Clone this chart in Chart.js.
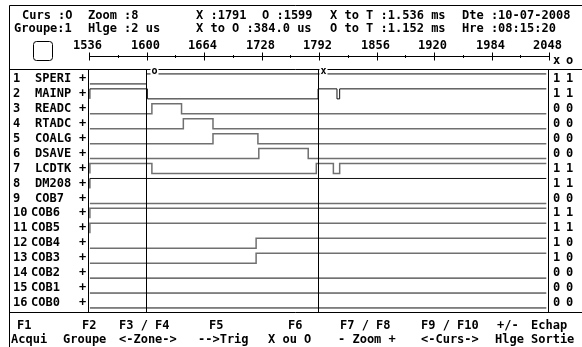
<!DOCTYPE html>
<html><head><meta charset="utf-8">
<script src="https://cdn.jsdelivr.net/npm/chart.js@4.4.0/dist/chart.umd.min.js"></script>
<style>
html,body{margin:0;padding:0;background:#fff;}
#wrap{position:relative;width:582px;height:347px;overflow:hidden;background:#fff;}
canvas{position:absolute;left:0;top:0;}
.t{position:absolute;font:bold 12px 'DejaVu Sans Mono',monospace;line-height:14px;white-space:pre;color:#000;}
</style></head><body>
<div id="wrap">
<canvas id="c" width="582" height="347"></canvas>
<span class="t" style="left:22px;top:8px">Curs :O</span>
<span class="t" style="left:88px;top:8px">Zoom :8</span>
<span class="t" style="left:196px;top:8px">X :1791</span>
<span class="t" style="left:262px;top:8px">O :1599</span>
<span class="t" style="left:330px;top:8px">X to T :1.536 ms</span>
<span class="t" style="left:462px;top:8px">Dte :10-07-2008</span>
<span class="t" style="left:14px;top:21px">Groupe:1</span>
<span class="t" style="left:88px;top:21px">Hlge :2 us</span>
<span class="t" style="left:196px;top:21px">X to O :384.0 us</span>
<span class="t" style="left:330px;top:21px">O to T :1.152 ms</span>
<span class="t" style="left:462px;top:21px">Hre :08:15:20</span>

<span class="t" style="left:17px;top:318px">F1</span>
<span class="t" style="left:82px;top:318px">F2</span>
<span class="t" style="left:119px;top:318px">F3 / F4</span>
<span class="t" style="left:209px;top:318px">F5</span>
<span class="t" style="left:288px;top:318px">F6</span>
<span class="t" style="left:340px;top:318px">F7 / F8</span>
<span class="t" style="left:421px;top:318px">F9 / F10</span>
<span class="t" style="left:497px;top:318px">+/-</span>
<span class="t" style="left:531px;top:318px">Echap</span>
<span class="t" style="left:11px;top:332px">Acqui</span>
<span class="t" style="left:63px;top:332px">Groupe</span>
<span class="t" style="left:119px;top:332px">&lt;-Zone-&gt;</span>
<span class="t" style="left:198px;top:332px">--&gt;Trig</span>
<span class="t" style="left:268px;top:332px">X ou O</span>
<span class="t" style="left:338px;top:332px">- Zoom +</span>
<span class="t" style="left:421px;top:332px">&lt;-Curs-&gt;</span>
<span class="t" style="left:495px;top:332px">Hlge</span>
<span class="t" style="left:531px;top:332px">Sortie</span>
</div>
<script>
// ---- data ----
const tickValues = [1536, 1600, 1664, 1728, 1792, 1856, 1920, 1984, 2048];
const signalNames = ['SPERI','MAINP','READC','RTADC','COALG','DSAVE','LCDTK','DM208',
                     'COB7','COB6','COB5','COB4','COB3','COB2','COB1','COB0'];
const startLevels = [0,1,0,0,0,0,1,1,0,1,1,0,0,0,0,0];
const edgesSPERI = [1600];
const edgesMAINP = [1601, 1791, 1812, 1815];
const edgesREADC = [1606, 1639];
const edgesRTADC = [1641, 1674];
const edgesCOALG = [1674, 1724];
const edgesDSAVE = [1725, 1780];
const edgesLCDTK = [1606, 1789, 1808, 1815];
const edgesDM208 = [];
const edgesCOB7 = [];
const edgesCOB6 = [];
const edgesCOB5 = [];
const edgesCOB4 = [1722];
const edgesCOB3 = [1722];
const edgesCOB2 = [];
const edgesCOB1 = [];
const edgesCOB0 = [];
const valuesAtX = ['1','1','0','0','0','0','1','1','0','1','1','1','1','0','0','0'];
const valuesAtO = ['1','1','0','0','0','0','1','1','0','1','1','0','0','0','0','0'];
const cursorX = 1791;
const cursorO = 1599;
const traceStart = 1537, traceEnd = 2045;

const allEdges = [edgesSPERI, edgesMAINP, edgesREADC, edgesRTADC, edgesCOALG, edgesDSAVE,
  edgesLCDTK, edgesDM208, edgesCOB7, edgesCOB6, edgesCOB5, edgesCOB4, edgesCOB3,
  edgesCOB2, edgesCOB1, edgesCOB0];

// ---- styles ----
const HIGH = 0.67;
const greyRows = [2,3,4,5,6,8,9,10,11,12];
const FONT = "bold 12px 'DejaVu Sans Mono', monospace";

function buildPoints(i) {
  const base = 15 - i;
  let lvl = startLevels[i];
  const pts = [];
  if (lvl === 1) { pts.push({x: traceStart, y: base}); }
  pts.push({x: traceStart, y: base + lvl * HIGH});
  for (const t of allEdges[i]) {
    lvl = 1 - lvl;
    pts.push({x: t, y: base + lvl * HIGH});
  }
  pts.push({x: traceEnd, y: base + lvl * HIGH});
  return pts;
}

const datasets = signalNames.map((n, i) => ({
  label: n,
  data: buildPoints(i),
  stepped: 'before',
  borderColor: greyRows.includes(i) ? '#707070' : '#111',
  borderWidth: greyRows.includes(i) ? 1.5 : 1,
  pointRadius: 0,
  fill: false,
  tension: 0
}));

const H = (v) => Math.round(v) + 0.5;

const scopePlugin = {
  id: 'scope',
  afterDraw(chart) {
    const ctx = chart.ctx;
    const xs = chart.scales.x, ys = chart.scales.y;
    const a = chart.chartArea;
    ctx.save();
    ctx.strokeStyle = '#000';
    ctx.lineWidth = 1;
    const line = (x1, y1, x2, y2) => { ctx.beginPath(); ctx.moveTo(x1, y1); ctx.lineTo(x2, y2); ctx.stroke(); };
    const top = a.top - 0.5, bot = a.bottom - 0.5;
    // frame
    line(9.5, 5.5, 582, 5.5);
    line(9.5, 5.5, 9.5, 347);
    line(9.5, H(top), 582, H(top));
    line(9.5, H(bot), 582, H(bot));
    line(88.5, H(top), 88.5, H(bot));
    line(548.5, H(top), 548.5, H(bot));
    // box
    ctx.beginPath();
    if (ctx.roundRect) ctx.roundRect(33.5, 41.5, 19, 19, 3); else ctx.rect(33.5, 41.5, 19, 19);
    ctx.stroke();
    // ruler
    const ry = 56.5;
    const x0 = xs.getPixelForValue(tickValues[0]), x1 = xs.getPixelForValue(tickValues[tickValues.length - 1]);
    line(Math.round(x0) + 0.5, ry, Math.round(x1) + 0.5, ry);
    ctx.font = FONT;
    ctx.fillStyle = '#000';
    ctx.textAlign = 'center';
    ctx.textBaseline = 'middle';
    for (let k = 0; k < tickValues.length; k++) {
      const px = Math.round(xs.getPixelForValue(tickValues[k])) + 0.5;
      line(px, ry - 4, px, ry + 4);
      ctx.fillText(String(tickValues[k]), px - 2, 46);
      if (k < tickValues.length - 1) {
        const mid = Math.round(xs.getPixelForValue((tickValues[k] + tickValues[k + 1]) / 2)) + 0.5;
        line(mid, ry - 1.5, mid, ry + 1.5);
      }
    }
    // x o header
    ctx.textAlign = 'left';
    ctx.fillText('x', 553, 61);
    ctx.fillText('o', 566, 61);
    // cursors
    const cx = Math.round(xs.getPixelForValue(cursorX)) + 0.5;
    const co = Math.round(xs.getPixelForValue(cursorO)) + 0.5;
    line(cx, H(top), cx, H(bot));
    line(co, H(top), co, H(bot));
    // markers
    const hy = ys.getPixelForValue(15 + HIGH);
    ctx.font = "bold 10px 'DejaVu Sans Mono', monospace";
    ctx.fillStyle = '#fff';
    ctx.fillRect(co + 4, hy - 6, 8, 7);
    ctx.fillRect(cx + 1, hy - 6, 8, 7);
    ctx.fillStyle = '#000';
    ctx.textBaseline = 'alphabetic';
    ctx.fillText('o', co + 5, hy + 0.5);
    ctx.fillText('x', cx + 2, hy + 0.5);
    // row labels and values
    ctx.font = FONT;
    ctx.textBaseline = 'middle';
    for (let i = 0; i < signalNames.length; i++) {
      const ty = ys.getPixelForValue(15 - i) - 5;
      ctx.fillText(String(i + 1), 13, ty);
      ctx.fillText(signalNames[i], i + 1 >= 10 ? 31 : 35, ty);
      ctx.fillText('+', 79, ty);
      ctx.fillText(valuesAtX[i], 553, ty);
      ctx.fillText(valuesAtO[i], 566, ty);
    }
    ctx.restore();
  }
};

new Chart(document.getElementById('c'), {
  type: 'line',
  data: { datasets },
  options: {
    responsive: false,
    animation: false,
    devicePixelRatio: 1,
    layout: { padding: { left: 89, right: 33, top: 69, bottom: 35 } },
    plugins: { legend: { display: false }, tooltip: { enabled: false } },
    scales: {
      x: { type: 'linear', min: 1536, max: 2048, display: false },
      y: { type: 'linear', min: -0.27, max: 16.0, display: false }
    }
  },
  plugins: [scopePlugin]
});
</script>
</body></html>
